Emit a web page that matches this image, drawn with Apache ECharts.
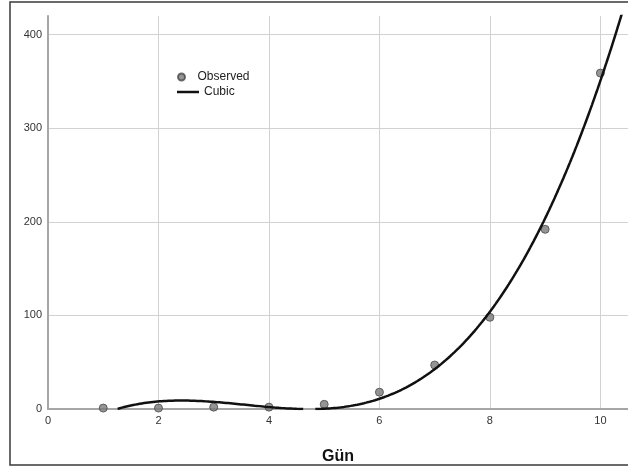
<!DOCTYPE html>
<html>
<head>
<meta charset="utf-8">
<script src="https://cdn.jsdelivr.net/npm/echarts@6/dist/echarts.min.js"></script>
<style>
  html, body { margin: 0; padding: 0; background: #ffffff; }
  #chart { width: 628px; height: 469px; }
</style>
</head>
<body>
<div id="chart"></div>
<script>
// Observed values per day
const days = [1, 2, 3, 4, 5, 6, 7, 8, 9, 10];
const observed = [1, 1, 2, 2, 5, 18, 47, 98, 192, 359];

// Axis ranges
const xRange = [0, 10.5];
const yRange = [0, 420];

// Least-squares cubic fit: y = b0 + b1 x + b2 x^2 + b3 x^3
function fitCubic(xs, ys) {
  const n = 4;
  const A = [], b = [];
  for (let i = 0; i < n; i++) {
    A.push([]);
    for (let j = 0; j < n; j++) {
      let s = 0;
      for (let k = 0; k < xs.length; k++) s += Math.pow(xs[k], i + j);
      A[i].push(s);
    }
    let t = 0;
    for (let k = 0; k < xs.length; k++) t += ys[k] * Math.pow(xs[k], i);
    b.push(t);
  }
  for (let c = 0; c < n; c++) {
    let p = c;
    for (let r = c + 1; r < n; r++) if (Math.abs(A[r][c]) > Math.abs(A[p][c])) p = r;
    [A[c], A[p]] = [A[p], A[c]];
    [b[c], b[p]] = [b[p], b[c]];
    for (let r = c + 1; r < n; r++) {
      const f = A[r][c] / A[c][c];
      for (let j = c; j < n; j++) A[r][j] -= f * A[c][j];
      b[r] -= f * b[c];
    }
  }
  const coef = new Array(n).fill(0);
  for (let r = n - 1; r >= 0; r--) {
    let s = b[r];
    for (let j = r + 1; j < n; j++) s -= A[r][j] * coef[j];
    coef[r] = s / A[r][r];
  }
  return coef;
}

const coef = fitCubic(days, observed);
const cubicAt = x => coef[0] + coef[1] * x + coef[2] * x * x + coef[3] * x * x * x;

// Fitted curve, left blank where it falls below the axis
const cubicLine = [];
for (let k = 0; k <= 1050; k++) {
  const x = k / 100;
  const y = cubicAt(x);
  cubicLine.push([x, y < 0 ? '-' : y]);
}

const scatterData = days.map((d, i) => [d, observed[i]]);

const labelFont = 'Liberation Sans, Arial, sans-serif';
const chart = echarts.init(document.getElementById('chart'), null, { renderer: 'canvas' });

chart.setOption({
  animation: false,
  backgroundColor: '#ffffff',
  grid: { left: 48, right: 0, top: 16, bottom: 60, containLabel: false, outerBoundsMode: 'none' },
  legend: [
    {
      data: [{ name: 'Observed', icon: 'circle' }], left: 172, top: 66, orient: 'vertical',
      itemWidth: 22, itemHeight: 7, itemGap: 0,
      textStyle: { fontFamily: labelFont, fontSize: 12, color: '#222' }
    },
    {
      data: [{ name: 'Cubic', icon: 'rect' }], left: 172, top: 81, orient: 'vertical',
      itemWidth: 22, itemHeight: 2.5, itemGap: 0,
      itemStyle: { color: '#111111', borderWidth: 0 },
      textStyle: { fontFamily: labelFont, fontSize: 12, color: '#222' }
    }
  ],
  xAxis: {
    type: 'value', min: xRange[0], max: xRange[1], interval: 2,
    name: 'Gün', nameLocation: 'middle', nameGap: 40,
    nameTextStyle: { fontFamily: labelFont, fontSize: 16, fontWeight: 'bold', color: '#111' },
    axisLine: { show: true, lineStyle: { color: '#a6a6a6', width: 2 } },
    axisTick: { show: false },
    axisLabel: { fontFamily: labelFont, fontSize: 11, color: '#333', margin: 6, showMaxLabel: false },
    splitLine: { show: true, showMaxLine: false, lineStyle: { color: '#d2d2d2', width: 1 } }
  },
  yAxis: {
    type: 'value', min: yRange[0], max: yRange[1], interval: 100,
    axisLine: { show: true, lineStyle: { color: '#a6a6a6', width: 2 } },
    axisTick: { show: false },
    axisLabel: { fontFamily: labelFont, fontSize: 11, color: '#333', margin: 6, showMaxLabel: false },
    splitLine: { show: true, showMaxLine: false, lineStyle: { color: '#d2d2d2', width: 1 } }
  },
  graphic: [
    {
      type: 'rect', silent: true, z: 100,
      shape: { x: 10, y: 2, width: 700, height: 463 },
      style: { fill: 'none', stroke: '#3a3a3a', lineWidth: 1.5 }
    }
  ],
  series: [
    {
      name: 'Observed', type: 'scatter', data: scatterData,
      symbol: 'circle', symbolSize: 8, z: 2,
      itemStyle: { color: '#7a7a7a', borderColor: '#4a4a4a', borderWidth: 1 }
    },
    {
      name: 'Cubic', type: 'line', data: cubicLine,
      showSymbol: false, symbol: 'none', connectNulls: false, z: 3,
      lineStyle: { color: '#111111', width: 2.5 },
      itemStyle: { color: '#111111' }
    }
  ]
});
</script>
</body>
</html>
